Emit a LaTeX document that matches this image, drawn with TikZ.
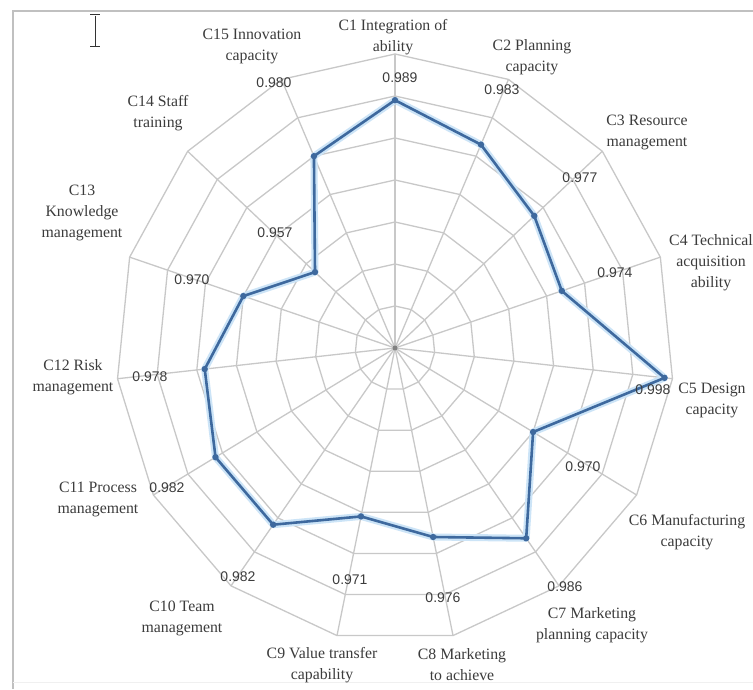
\documentclass[tikz,border=0pt]{standalone}
\usepackage{fontspec}
\setmainfont{Liberation Serif}
\setsansfont{Liberation Sans}
\usepackage{tikz}
\usepackage{xcolor}
\definecolor{gridgray}{RGB}{200,200,200}
\definecolor{framegray}{RGB}{192,192,192}
\definecolor{series1}{RGB}{62,105,158}
\definecolor{glow1}{RGB}{204,228,247}
\definecolor{textgray}{RGB}{60,60,60}

\tikzset{
  gridline/.style={draw=gridgray, line width=1.3pt, line join=round},
  catlabel/.style={align=center, text=textgray, font=\fontsize{15.8}{21}\selectfont, inner sep=0pt},
  vallabel/.style={text=textgray, font=\sffamily\fontsize{14}{15}\selectfont, inner sep=0pt},
  seriesline/.style={draw=series1, line width=2.6pt, line join=round},
  seriesglow/.style={draw=glow1, line width=7pt, line join=round},
}

\begin{document}
\begin{tikzpicture}[x=1pt,y=1pt]
\useasboundingbox (0,0) rectangle (753,689);
\fill[white] (0,0) rectangle (753,689);
\draw[framegray, line width=2.5pt] (13,0) -- (13,678) -- (753,678);
\draw[gray!12, line width=1pt] (13,7) -- (753,7);

\draw[black!80, line width=1pt] (95,673) -- (95,643) (90,674) -- (100,674) (90,642) -- (100,642);

\begin{scope}[shift={(395,341)}, x=279pt, y=294pt]
\coordinate (O) at (0,0);
\foreach \k in {1,...,7}
  \draw[gridline] (90:{\k/7}) \foreach \i in {1,...,14}{ -- ({90-24*\i}:{\k/7})} -- cycle;
\foreach \i in {0,...,14}
  \draw[gridline] (O) -- ({90-24*\i}:1);
\fill[gray] (O) circle (2.5pt);

\foreach \v [count=\i from 0] in {0.989,0.983,0.977,0.974,0.998,0.970,0.986,0.976,0.971,0.982,0.982,0.978,0.970,0.957,0.980}
  \coordinate (p\i) at ({90-24*\i}:{(\v-0.93)/0.07});
\draw[seriesglow] (p0) \foreach \i in {1,...,14}{ -- (p\i)} -- cycle;
\draw[seriesline] (p0) \foreach \i in {1,...,14}{ -- (p\i)} -- cycle;
\foreach \i in {0,...,14}
  \fill[series1] (p\i) circle (3.2pt);
\end{scope}

\foreach \n/\x/\y/\t in {1/400/611/0.989, 2/502/599/0.983, 3/580/511/0.977, 4/615/416/0.974,
  5/653/299/0.998, 6/583/222/0.970, 7/565/102/0.986, 8/443/91/0.976, 9/350/109/0.971,
  10/238/112/0.982, 11/167/201/0.982, 12/150/312/0.978, 13/192/409/0.970, 14/275/456/0.957,
  15/274/606/0.980}
  \node[vallabel] (v\n) at (\x,\y) {\t};

\foreach \n/\x/\y/\t in {1/393/651.5/{C1 Integration of\\ability}, 2/532/632/{C2 Planning\\capacity},
  3/647/556.5/{C3 Resource\\management}, 4/711/426/{C4 Technical\\acquisition\\ability},
  5/712/289/{C5 Design\\capacity}, 6/687/157/{C6 Manufacturing\\capacity},
  7/592/64/{C7 Marketing\\planning capacity}, 8/462/24/{C8 Marketing\\to achieve},
  9/322/24/{C9 Value transfer\\capability}, 10/182/71/{C10 Team\\management},
  11/98/190/{C11 Process\\management}, 12/73/311.5/{C12 Risk\\management},
  13/82/476.5/{C13\\Knowledge\\management}, 14/158/575.5/{C14 Staff\\training},
  15/252/643/{C15 Innovation\\capacity}}
  \node[catlabel] (c\n) at (\x,\y) {\t};
\end{tikzpicture}
\end{document}
